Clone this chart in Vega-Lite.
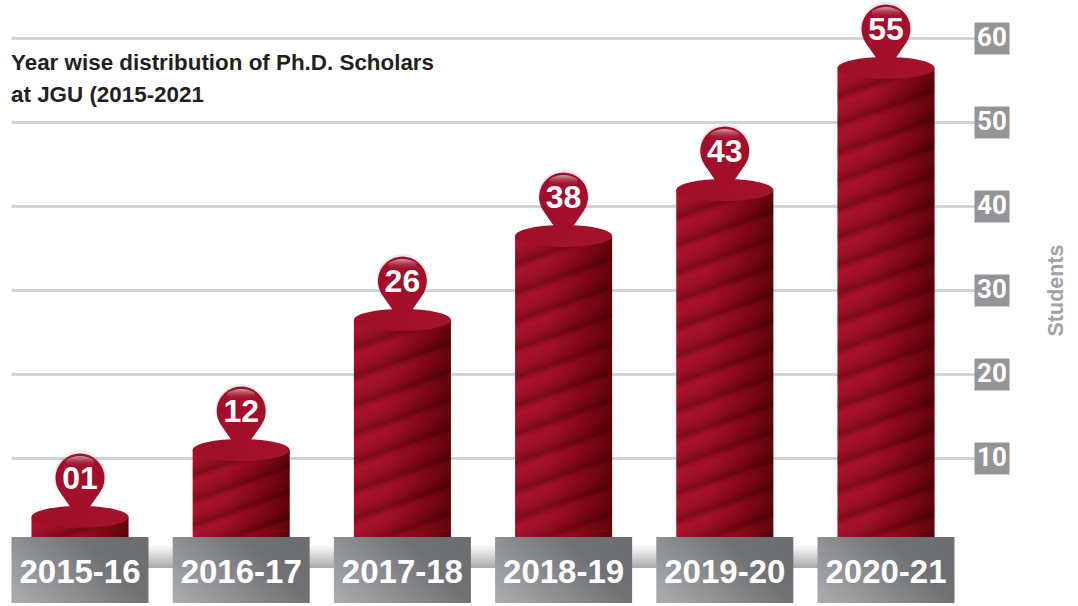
{"$schema":"https://vega.github.io/schema/vega-lite/v6.json","width":963,"height":606,"autosize":"none","padding":{"left":11,"top":0,"right":104,"bottom":0},"background":"#ffffff","view":{"stroke":null},
"title":{"text":["Year wise distribution of Ph.D. Scholars","at JGU (2015-2021"],"anchor":"start","frame":"group","offset":-124,"baseline":"alphabetic","font":"Liberation Sans","fontSize":22.4,"fontWeight":"bold","color":"#231f20","lineHeight":32},
"data":{"values":[{"year":"2015-16","height":2.98,"label":"01"},{"year":"2016-17","height":10.95,"label":"12"},{"year":"2017-18","height":26.43,"label":"26"},{"year":"2018-19","height":36.43,"label":"38"},{"year":"2019-20","height":41.9,"label":"43"},{"year":"2020-21","height":56.43,"label":"55"}]},
"encoding":{"x":{"field":"year","type":"nominal","sort":null,"scale":{"type":"band","domain":["2015-16","2016-17","2017-18","2018-19","2019-20","2020-21"],"range":[-11.6,963],"paddingInner":0,"paddingOuter":0.02295,"align":0},"axis":{"title":null,"domain":false,"ticks":false,"labelAngle":0,"labelFont":"Liberation Sans","labelFontWeight":"bold","labelFontSize":33,"labelColor":"#ffffff","labelBaseline":"alphabetic","labelPadding":-24,"labelOverlap":false,"zindex":1}},
"y":{"field":"height","type":"quantitative","scale":{"domain":[-7.62,64.52],"nice":false,"zero":false},"axis":{"values":[10,20,30,40,50,60],"orient":"right","domain":false,"grid":true,"gridColor":"#d1d3d4","gridWidth":3,"tickColor":"#939598","tickSize":35,"tickWidth":32,"labelFont":"Roboto","labelFontWeight":"bold","labelFontSize":26,"labelColor":"#ffffff","labelAlign":"center","labelPadding":-17.5,"title":"Students","titleFont":"Liberation Sans","titleFontWeight":"bold","titleFontSize":21.5,"titleColor":"#a0a2a5","titleAngle":-90,"titleX":82,"titleY":290,"titleAlign":"center","titleBaseline":"middle"}}},
"layer":[
{"mark":{"type":"rect","fill":{"gradient":"linear","x1":0,"y1":0,"x2":0,"y2":1,"stops":[{"offset":0,"color":"#ffffff"},{"offset":1,"color":"#a7a9ac"}]}},"encoding":{"x":{"datum":"2015-16"},"x2":{"datum":"2020-21"},"y":{"datum":-0.3},"y2":{"datum":-3.1}}},
{"mark":{"type":"bar","width":97,"fill":{"gradient":"linear","x1":0,"y1":0,"x2":1,"y2":0,"stops":[{"offset":0,"color":"#a5112a"},{"offset":0.35,"color":"#9c0e24"},{"offset":0.7,"color":"#7a0412"},{"offset":1,"color":"#4e0003"}]}},"encoding":{"y2":{"datum":0}}},
{"transform":[{"filter":{"field":"year","equal":"2015-16"}}],"mark":{"type":"bar","width":97,"fill":{"gradient":"linear","x1":0,"y1":0,"x2":1.126,"y2":0.828,"stops":[{"offset":0,"color":"rgba(60,0,8,0.35)"},{"offset":0.15,"color":"rgba(205,30,55,0.14)"},{"offset":0.5,"color":"rgba(60,0,8,0.35)"},{"offset":0.65,"color":"rgba(205,30,55,0.14)"},{"offset":1,"color":"rgba(60,0,8,0.35)"}]}},"encoding":{"y2":{"datum":0}}},
{"transform":[{"filter":{"field":"year","equal":"2016-17"}}],"mark":{"type":"bar","width":97,"fill":{"gradient":"linear","x1":0,"y1":0,"x2":0.4453,"y2":1.205,"stops":[{"offset":0,"color":"rgba(60,0,8,0.35)"},{"offset":0.06,"color":"rgba(205,30,55,0.14)"},{"offset":0.2,"color":"rgba(60,0,8,0.35)"},{"offset":0.26,"color":"rgba(205,30,55,0.14)"},{"offset":0.4,"color":"rgba(60,0,8,0.35)"},{"offset":0.46,"color":"rgba(205,30,55,0.14)"},{"offset":0.6,"color":"rgba(60,0,8,0.35)"},{"offset":0.66,"color":"rgba(205,30,55,0.14)"},{"offset":0.8,"color":"rgba(60,0,8,0.35)"},{"offset":0.86,"color":"rgba(205,30,55,0.14)"},{"offset":1,"color":"rgba(60,0,8,0.35)"}]}},"encoding":{"y2":{"datum":0}}},
{"transform":[{"filter":{"field":"year","equal":"2017-18"}}],"mark":{"type":"bar","width":97,"fill":{"gradient":"linear","x1":0,"y1":0,"x2":0.1726,"y2":1.1267,"stops":[{"offset":0,"color":"rgba(60,0,8,0.35)"},{"offset":0.033,"color":"rgba(205,30,55,0.14)"},{"offset":0.111,"color":"rgba(60,0,8,0.35)"},{"offset":0.144,"color":"rgba(205,30,55,0.14)"},{"offset":0.222,"color":"rgba(60,0,8,0.35)"},{"offset":0.256,"color":"rgba(205,30,55,0.14)"},{"offset":0.333,"color":"rgba(60,0,8,0.35)"},{"offset":0.367,"color":"rgba(205,30,55,0.14)"},{"offset":0.444,"color":"rgba(60,0,8,0.35)"},{"offset":0.478,"color":"rgba(205,30,55,0.14)"},{"offset":0.556,"color":"rgba(60,0,8,0.35)"},{"offset":0.589,"color":"rgba(205,30,55,0.14)"},{"offset":0.667,"color":"rgba(60,0,8,0.35)"},{"offset":0.7,"color":"rgba(205,30,55,0.14)"},{"offset":0.778,"color":"rgba(60,0,8,0.35)"},{"offset":0.811,"color":"rgba(205,30,55,0.14)"},{"offset":0.889,"color":"rgba(60,0,8,0.35)"},{"offset":0.922,"color":"rgba(205,30,55,0.14)"},{"offset":1,"color":"rgba(60,0,8,0.35)"}]}},"encoding":{"y2":{"datum":0}}},
{"transform":[{"filter":{"field":"year","equal":"2018-19"}}],"mark":{"type":"bar","width":97,"fill":{"gradient":"linear","x1":0,"y1":0,"x2":0.12195,"y2":1.0976,"stops":[{"offset":0,"color":"rgba(60,0,8,0.35)"},{"offset":0.025,"color":"rgba(205,30,55,0.14)"},{"offset":0.083,"color":"rgba(60,0,8,0.35)"},{"offset":0.108,"color":"rgba(205,30,55,0.14)"},{"offset":0.167,"color":"rgba(60,0,8,0.35)"},{"offset":0.192,"color":"rgba(205,30,55,0.14)"},{"offset":0.25,"color":"rgba(60,0,8,0.35)"},{"offset":0.275,"color":"rgba(205,30,55,0.14)"},{"offset":0.333,"color":"rgba(60,0,8,0.35)"},{"offset":0.358,"color":"rgba(205,30,55,0.14)"},{"offset":0.417,"color":"rgba(60,0,8,0.35)"},{"offset":0.442,"color":"rgba(205,30,55,0.14)"},{"offset":0.5,"color":"rgba(60,0,8,0.35)"},{"offset":0.525,"color":"rgba(205,30,55,0.14)"},{"offset":0.583,"color":"rgba(60,0,8,0.35)"},{"offset":0.608,"color":"rgba(205,30,55,0.14)"},{"offset":0.667,"color":"rgba(60,0,8,0.35)"},{"offset":0.692,"color":"rgba(205,30,55,0.14)"},{"offset":0.75,"color":"rgba(60,0,8,0.35)"},{"offset":0.775,"color":"rgba(205,30,55,0.14)"},{"offset":0.833,"color":"rgba(60,0,8,0.35)"},{"offset":0.858,"color":"rgba(205,30,55,0.14)"},{"offset":0.917,"color":"rgba(60,0,8,0.35)"},{"offset":0.942,"color":"rgba(205,30,55,0.14)"},{"offset":1,"color":"rgba(60,0,8,0.35)"}]}},"encoding":{"y2":{"datum":0}}},
{"transform":[{"filter":{"field":"year","equal":"2019-20"}}],"mark":{"type":"bar","width":97,"fill":{"gradient":"linear","x1":0,"y1":0,"x2":0.10494,"y2":1.0865,"stops":[{"offset":0,"color":"rgba(60,0,8,0.35)"},{"offset":0.021,"color":"rgba(205,30,55,0.14)"},{"offset":0.071,"color":"rgba(60,0,8,0.35)"},{"offset":0.093,"color":"rgba(205,30,55,0.14)"},{"offset":0.143,"color":"rgba(60,0,8,0.35)"},{"offset":0.164,"color":"rgba(205,30,55,0.14)"},{"offset":0.214,"color":"rgba(60,0,8,0.35)"},{"offset":0.236,"color":"rgba(205,30,55,0.14)"},{"offset":0.286,"color":"rgba(60,0,8,0.35)"},{"offset":0.307,"color":"rgba(205,30,55,0.14)"},{"offset":0.357,"color":"rgba(60,0,8,0.35)"},{"offset":0.379,"color":"rgba(205,30,55,0.14)"},{"offset":0.429,"color":"rgba(60,0,8,0.35)"},{"offset":0.45,"color":"rgba(205,30,55,0.14)"},{"offset":0.5,"color":"rgba(60,0,8,0.35)"},{"offset":0.521,"color":"rgba(205,30,55,0.14)"},{"offset":0.571,"color":"rgba(60,0,8,0.35)"},{"offset":0.593,"color":"rgba(205,30,55,0.14)"},{"offset":0.643,"color":"rgba(60,0,8,0.35)"},{"offset":0.664,"color":"rgba(205,30,55,0.14)"},{"offset":0.714,"color":"rgba(60,0,8,0.35)"},{"offset":0.736,"color":"rgba(205,30,55,0.14)"},{"offset":0.786,"color":"rgba(60,0,8,0.35)"},{"offset":0.807,"color":"rgba(205,30,55,0.14)"},{"offset":0.857,"color":"rgba(60,0,8,0.35)"},{"offset":0.879,"color":"rgba(205,30,55,0.14)"},{"offset":0.929,"color":"rgba(60,0,8,0.35)"},{"offset":0.95,"color":"rgba(205,30,55,0.14)"},{"offset":1,"color":"rgba(60,0,8,0.35)"}]}},"encoding":{"y2":{"datum":0}}},
{"transform":[{"filter":{"field":"year","equal":"2020-21"}}],"mark":{"type":"bar","width":97,"fill":{"gradient":"linear","x1":0,"y1":0,"x2":0.07648,"y2":1.0663,"stops":[{"offset":0,"color":"rgba(60,0,8,0.35)"},{"offset":0.017,"color":"rgba(205,30,55,0.14)"},{"offset":0.056,"color":"rgba(60,0,8,0.35)"},{"offset":0.072,"color":"rgba(205,30,55,0.14)"},{"offset":0.111,"color":"rgba(60,0,8,0.35)"},{"offset":0.128,"color":"rgba(205,30,55,0.14)"},{"offset":0.167,"color":"rgba(60,0,8,0.35)"},{"offset":0.183,"color":"rgba(205,30,55,0.14)"},{"offset":0.222,"color":"rgba(60,0,8,0.35)"},{"offset":0.239,"color":"rgba(205,30,55,0.14)"},{"offset":0.278,"color":"rgba(60,0,8,0.35)"},{"offset":0.294,"color":"rgba(205,30,55,0.14)"},{"offset":0.333,"color":"rgba(60,0,8,0.35)"},{"offset":0.35,"color":"rgba(205,30,55,0.14)"},{"offset":0.389,"color":"rgba(60,0,8,0.35)"},{"offset":0.406,"color":"rgba(205,30,55,0.14)"},{"offset":0.444,"color":"rgba(60,0,8,0.35)"},{"offset":0.461,"color":"rgba(205,30,55,0.14)"},{"offset":0.5,"color":"rgba(60,0,8,0.35)"},{"offset":0.517,"color":"rgba(205,30,55,0.14)"},{"offset":0.556,"color":"rgba(60,0,8,0.35)"},{"offset":0.572,"color":"rgba(205,30,55,0.14)"},{"offset":0.611,"color":"rgba(60,0,8,0.35)"},{"offset":0.628,"color":"rgba(205,30,55,0.14)"},{"offset":0.667,"color":"rgba(60,0,8,0.35)"},{"offset":0.683,"color":"rgba(205,30,55,0.14)"},{"offset":0.722,"color":"rgba(60,0,8,0.35)"},{"offset":0.739,"color":"rgba(205,30,55,0.14)"},{"offset":0.778,"color":"rgba(60,0,8,0.35)"},{"offset":0.794,"color":"rgba(205,30,55,0.14)"},{"offset":0.833,"color":"rgba(60,0,8,0.35)"},{"offset":0.85,"color":"rgba(205,30,55,0.14)"},{"offset":0.889,"color":"rgba(60,0,8,0.35)"},{"offset":0.906,"color":"rgba(205,30,55,0.14)"},{"offset":0.944,"color":"rgba(60,0,8,0.35)"},{"offset":0.961,"color":"rgba(205,30,55,0.14)"},{"offset":1,"color":"rgba(60,0,8,0.35)"}]}},"encoding":{"y2":{"datum":0}}},
{"mark":{"type":"bar","width":137,"fill":{"gradient":"linear","x1":0,"y1":0.85,"x2":1,"y2":0.35,"stops":[{"offset":0,"color":"#a7a9ac"},{"offset":0.75,"color":"#707174"},{"offset":1,"color":"#6d6e71"}]}},"encoding":{"y":{"datum":0.6},"y2":{"datum":-7.26}}},
{"mark":{"type":"point","filled":true,"opacity":1,"shape":"M-1,0 A1,0.225 0 1,1 1,0 A1,0.225 0 1,1 -1,0 Z","size":9409,"fill":{"gradient":"linear","x1":0,"y1":0,"x2":1,"y2":0,"stops":[{"offset":0,"color":"#9f0f27"},{"offset":1,"color":"#a5122b"}]}}},
{"mark":{"type":"point","filled":true,"opacity":0.18,"fill":"#7d8c90","shape":"M0,0.08 L-0.403,-0.501 A0.49,0.49 0 1,1 0.403,-0.501 Z","size":10800}},
{"mark":{"type":"point","filled":true,"opacity":1,"fill":"#a30f2b","shape":"M0,0.08 L-0.403,-0.501 A0.49,0.49 0 1,1 0.403,-0.501 Z","size":10000}},
{"mark":{"type":"point","filled":true,"opacity":1,"shape":"M-0.28,-1.0 L-0.28,-1.14 Q0,-1.3 0.28,-1.14 L0.28,-1.0 Z","size":10000,"fill":{"gradient":"linear","x1":0,"y1":0,"x2":0,"y2":1,"stops":[{"offset":0,"color":"rgba(205,175,175,0.95)"},{"offset":1,"color":"rgba(163,15,43,0)"}]}}},
{"mark":{"type":"text","font":"Liberation Sans","fontWeight":"bold","fontSize":32,"color":"#ffffff","dy":-38,"baseline":"middle"},"encoding":{"text":{"field":"label","type":"nominal"}}}
]}
